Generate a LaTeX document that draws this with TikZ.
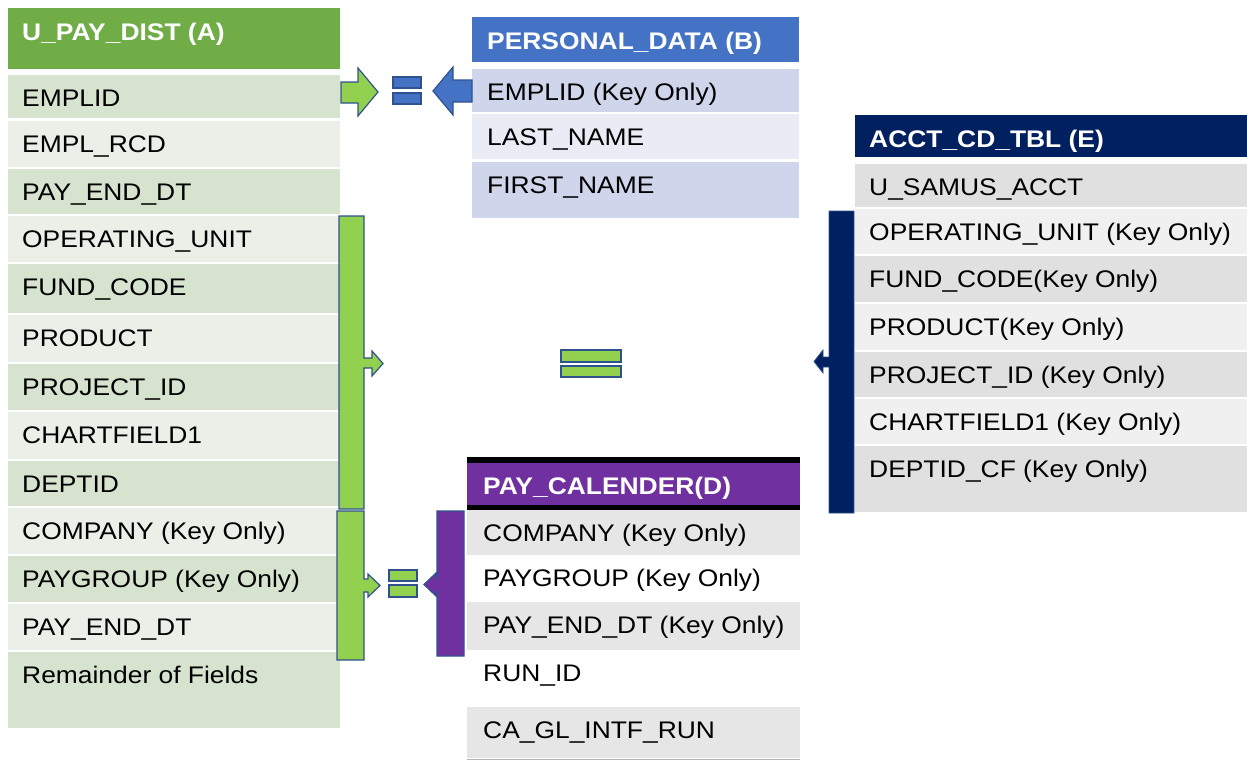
\documentclass[tikz,border=0pt]{standalone}
\usepackage{xcolor}
\usepackage{fontspec}
\setmainfont{Liberation Sans}[FakeStretch=1.1]
\usepackage{tikz}
\usetikzlibrary{positioning}
\definecolor{greenhead}{HTML}{70AD47}
\definecolor{greendark}{HTML}{D6E3CF}
\definecolor{greenlight}{HTML}{EAF0E7}
\definecolor{bluehead}{HTML}{4472C4}
\definecolor{bluedark}{HTML}{CFD5EA}
\definecolor{bluelight}{HTML}{E9EBF5}
\definecolor{navyhead}{HTML}{002060}
\definecolor{graydark}{HTML}{E0E0E0}
\definecolor{graylight}{HTML}{F0F0F0}
\definecolor{purplehead}{HTML}{7030A0}
\definecolor{grayrow}{HTML}{E6E6E6}
\definecolor{limegreen}{HTML}{92D050}
\definecolor{outlineblue}{HTML}{2F528F}

\begin{document}
\begin{tikzpicture}[
      x=1pt, y=-1pt,
      field/.style={anchor=base west, inner sep=0pt,
        font=\fontsize{24}{28}\selectfont},
      title/.style={field, text=white,
        font=\fontsize{24}{28}\selectfont\bfseries},
      marker/.style={draw=outlineblue, line width=1.2pt, line join=miter},
  ]
  \useasboundingbox (0,0) rectangle (1247,760);

  % 1. U_PAY_DIST (A)
  \fill[greenhead] (8,8) rectangle (340,69);
  \node[title] (aHead) at (22,41) {U\_PAY\_DIST (A)};
  \foreach \y/\h/\col/\txt [count=\i] in {
      75/43/greendark/EMPLID,
      121/46/greenlight/EMPL\_RCD,
      169/45/greendark/PAY\_END\_DT,
      216/46/greenlight/OPERATING\_UNIT,
      264/49/greendark/FUND\_CODE,
      315/47/greenlight/PRODUCT,
      364/46/greendark/PROJECT\_ID,
      412/47/greenlight/CHARTFIELD1,
      461/45/greendark/DEPTID,
      508/46/greenlight/COMPANY (Key Only),
      556/46/greendark/PAYGROUP (Key Only),
      604/46/greenlight/PAY\_END\_DT,
      652/76/greendark/Remainder of Fields}
  {
    \fill[\col] (8,\y) rectangle ++(332,\h);
    \node[field] (a\i) at (22,{\y+31}) {\txt};
  }

  % 2. PERSONAL_DATA (B)
  \fill[bluehead] (472,17) rectangle (799,62);
  \node[title] (bHead) at (487,50) {PERSONAL\_DATA (B)};
  \foreach \y/\h/\col/\txt [count=\i] in {
      69/43/bluedark/EMPLID (Key Only),
      114/45/bluelight/LAST\_NAME,
      162/56/bluedark/FIRST\_NAME}
  {
    \fill[\col] (472,\y) rectangle ++(327,\h);
    \node[field] (b\i) at (487,{\y+31}) {\txt};
  }

  % 3. ACCT_CD_TBL (E)
  \fill[navyhead] (855,115) rectangle (1247,157);
  \node[title] (eHead) at (869,147) {ACCT\_CD\_TBL (E)};
  \foreach \y/\h/\col/\txt [count=\i] in {
      164/43/graydark/U\_SAMUS\_ACCT,
      209/45/graylight/OPERATING\_UNIT (Key Only),
      256/46/graydark/FUND\_CODE(Key Only),
      304/46/graylight/PRODUCT(Key Only),
      352/45/graydark/PROJECT\_ID (Key Only),
      399/45/graylight/CHARTFIELD1 (Key Only),
      446/66/graydark/DEPTID\_CF (Key Only)}
  {
    \fill[\col] (855,\y) rectangle ++(392,\h);
    \node[field] (e\i) at (869,{\y+31}) {\txt};
  }

  % 4. PAY_CALENDER(D)
  \fill[black] (467,457) rectangle (800,510);
  \fill[purplehead] (467,463) rectangle (800,505);
  \node[title] (dHead) at (483,494) {PAY\_CALENDER(D)};
  \foreach \y/\h/\col/\txt [count=\i] in {
      510/45/grayrow/COMPANY (Key Only),
      555/47/white/PAYGROUP (Key Only),
      602/48/grayrow/PAY\_END\_DT (Key Only),
      650/55/white/RUN\_ID,
      707/51/grayrow/CA\_GL\_INTF\_RUN}
  {
    \fill[\col] (467,\y) rectangle ++(333,\h);
    \node[field] (d\i) at (483,{\y+31}) {\txt};
  }
  \draw[gray!60, line width=1pt] (467,759) -- (800,759);

  % 5. EMPLID match A = B
  \draw[marker, fill=limegreen] (341,82) -- (358,82) -- (358,68) -- (378,92)
    -- (358,116) -- (358,103) -- (341,103) -- cycle;
  \draw[marker, fill=bluehead] (393,77) rectangle (421,88);
  \draw[marker, fill=bluehead] (393,93) rectangle (421,104);
  \draw[marker, fill=bluehead] (472,80) -- (453,80) -- (453,67) -- (433,91)
    -- (453,115) -- (453,102) -- (472,102) -- cycle;

  % 6. chartfields A = E
  \draw[marker, fill=limegreen] (339,216) -- (364,216) -- (364,358)
    -- (372,358) -- (372,351) -- (383,363.5) -- (372,376) -- (372,368)
    -- (364,368) -- (364,509) -- (339,509) -- cycle;
  \draw[marker, fill=limegreen] (561,350) rectangle (621,362);
  \draw[marker, fill=limegreen] (561,366) rectangle (621,377);
  \draw[draw=outlineblue, line width=0.8pt, fill=navyhead] (854,211)
    -- (829,211) -- (829,357) -- (823,357) -- (823,350) -- (814,361.5)
    -- (823,373) -- (823,367) -- (829,367) -- (829,513) -- (854,513) -- cycle;

  % 7. pay calendar A = D
  \draw[marker, fill=limegreen] (337,511) -- (364,511) -- (364,579)
    -- (368,579) -- (368,574) -- (380,585.5) -- (368,597) -- (368,592)
    -- (364,592) -- (364,660) -- (337,660) -- cycle;
  \draw[marker, fill=limegreen] (389,570) rectangle (417,581);
  \draw[marker, fill=limegreen] (389,585) rectangle (417,597);
  \draw[marker, fill=purplehead] (464,511) -- (437,511) -- (437,579)
    -- (436,579) -- (436,573) -- (424,584.5) -- (436,596) -- (436,590)
    -- (437,590) -- (437,656) -- (464,656) -- cycle;
\end{tikzpicture}
\end{document}
